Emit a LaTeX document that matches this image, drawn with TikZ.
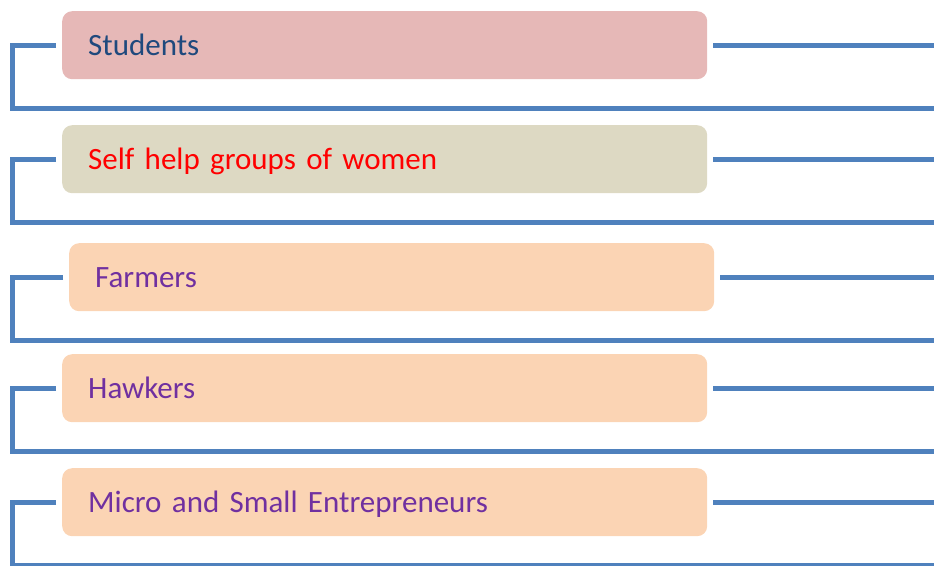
\documentclass[tikz,border=0pt]{standalone}
\usepackage{fontspec}
\setmainfont{Carlito}
\usetikzlibrary{calc,
positioning}
\definecolor{linblue}{HTML}{4F81BD}
\definecolor{studfill}{HTML}{E6B8B7}
\definecolor{shgfill}{HTML}{DDD9C3}
\definecolor{peach}{HTML}{FBD4B4}
\definecolor{navytext}{HTML}{1F497D}
\definecolor{purpletext}{HTML}{7030A0}
\begin{document}
\begin{tikzpicture} [x=1pt,
    y=-1pt,
    every node/.style={font={\fontsize{31}{37}\selectfont}},
    main node/.style={rectangle, rounded corners=10pt, draw=none,
        anchor=north west, minimum width=645pt, minimum height=68pt,
        text width=593pt, inner xsep=26pt, text height=27pt, text depth=7pt,
        align=left},
    blue line/.style={draw=linblue, line width=5pt}
  ]

  \useasboundingbox (0,0) rectangle (934,565);

  \node [main node,
    fill = studfill,
    text = navytext
  ] (stud) at (62, 11) {Students};
  \node [main node,
    fill = shgfill,
    text = red
  ] (shg) at (62, 125) {Self help groups of women};
  \node [main node,
    fill = peach,
    text = purpletext
  ] (farm) at (69, 243) {Farmers};
  \node [main node,
    fill = peach,
    text = purpletext
  ] (hawk) at (62, 354) {Hawkers};
  \node [main node,
    fill = peach,
    text = purpletext
  ] (mse) at (62, 468) {Micro and Small Entrepreneurs};

  \coordinate (edge) at (934, 0);
  \coordinate (studL) at (12.5, 108);
  \coordinate (shgL)  at (12.5, 222);
  \coordinate (farmL) at (12.5, 340.5);
  \coordinate (hawkL) at (12.5, 451.5);
  \coordinate (mseL)  at (12.5, 565);

  \draw [blue line] ([xshift=-6pt]stud.west) -| (studL) -- (studL -| edge);
  \draw [blue line] ([xshift=6pt]stud.east) -- (stud.east -| edge);
  \draw [blue line] ([xshift=-6pt]shg.west) -| (shgL) -- (shgL -| edge);
  \draw [blue line] ([xshift=6pt]shg.east) -- (shg.east -| edge);
  \draw [blue line] ([xshift=-6pt]farm.west) -| (farmL) -- (farmL -| edge);
  \draw [blue line] ([xshift=6pt]farm.east) -- (farm.east -| edge);
  \draw [blue line] ([xshift=-6pt]hawk.west) -| (hawkL) -- (hawkL -| edge);
  \draw [blue line] ([xshift=6pt]hawk.east) -- (hawk.east -| edge);
  \draw [blue line] ([xshift=-6pt]mse.west) -| (mseL) -- (mseL -| edge);
  \draw [blue line] ([xshift=6pt]mse.east) -- (mse.east -| edge);

\end{tikzpicture}
\end{document}
